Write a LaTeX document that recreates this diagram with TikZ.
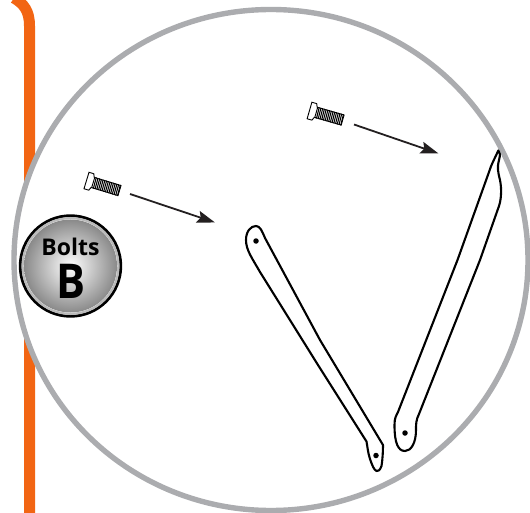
\documentclass[tikz,border=0pt]{standalone}
\usepackage{fontspec}
\setmainfont{Open Sans}
\usetikzlibrary{arrows.meta}
\definecolor{orangebar}{HTML}{F26513}
\definecolor{ringgray}{HTML}{ABACAF}
\definecolor{arrowblk}{HTML}{231F20}
\tikzset{
  x=1pt,y=-1pt,
  strap/.style={draw=black,line width=2.1pt,fill=white,line join=round},
  holemark/.style={circle,fill=black,inner sep=0pt,minimum size=5.5pt},
  pointer/.style={draw=arrowblk,line width=1.8pt,-{Stealth[length=18pt,width=12pt,inset=3pt]}},
  boltline/.style={draw=black,line width=.9pt,fill=white},
  pics/bolt/.style={code={
    \path[boltline] (0,-8.6) -- (5,-8.6) -- (6.5,-5.2) -- (8,-5.2) -- (8,5.2) -- (6.5,5.2) -- (5,8.6) -- (0,8.6) -- cycle;
    \path[boltline] (7,-5.2) rectangle (34.5,5.2);
    \foreach \k in {8.5,10.3,...,34} \draw[black,line width=1.05pt] (\k,-5.8) -- (\k+.4,5.8);
  }}
}
\begin{document}
\begin{tikzpicture}
\useasboundingbox (0,0) rectangle (530,513);
% orange bar
\draw[orangebar,line width=11pt] (14,-2) .. controls (24,4) and (29.5,11) .. (29.5,26) -- (29.5,514);
% big circle
\path[fill=white,draw=ringgray,line width=5.4pt] (271,260) ellipse [x radius=257,y radius=250.5];
% badge
\shade[inner color=white,outer color=black!46] (70.5,266) circle (46.5);
\draw[black,line width=2.8pt] (70.5,266) circle (50.3);
\draw[black!27,line width=2.2pt] (70.5,266) circle (47.9);
\node[font=\bfseries\fontsize{23}{24}\selectfont,inner sep=0pt] (boltslabel) at (70.5,247) {Bolts};
\node[font=\bfseries\fontsize{48}{48}\selectfont,inner sep=0pt,xscale=.9] (bletter) at (71,281) {B};
% bolts
\pic[rotate=-17] at (86.5,180.5) {bolt};
\pic[rotate=-16] at (309.5,110.5) {bolt};
% arrows
\coordinate (a1s) at (130,194); \coordinate (a1e) at (215,222.5);
\coordinate (a2s) at (354,124.5); \coordinate (a2e) at (438.5,153.5);
\draw[pointer] (a1s) -- (a1e);
\draw[pointer] (a2s) -- (a2e);
% left strap
\path[strap] (246,240) .. controls (246,231) and (251,226) .. (256,226)
  .. controls (260,226) and (262,231) .. (265,238)
  -- (320,340) -- (383,445)
  .. controls (383,452) and (382.5,460) .. (381.5,466)
  .. controls (380,470) and (378,472) .. (376.5,471)
  .. controls (374,470) and (372,465) .. (370,459)
  .. controls (368,453) and (367.5,447) .. (366.5,441.5)
  -- (318,365) -- (260,272)
  .. controls (252,258) and (246,250) .. (246,240) -- cycle;
\node[holemark] (hole1) at (256,241) {};
\node[holemark] (hole2) at (376,455.5) {};
% right strap
\path[strap] (394.5,425) .. controls (394.5,418) and (396,416) .. (398,412)
  -- (457.5,260) -- (489,172)
  .. controls (491,165) and (495,158) .. (498.3,150.5)
  .. controls (500,152) and (500.5,155) .. (499,160)
  .. controls (497,168) and (498,172) .. (500,180)
  .. controls (502,190) and (501,200) .. (499,206)
  -- (480,260) -- (419,414)
  .. controls (416,420) and (416,424) .. (416,430)
  .. controls (416,443) and (411,451) .. (405,451)
  .. controls (398,451) and (394.5,443) .. (394.5,425) -- cycle;
\node[holemark] (hole3) at (405,433) {};
\end{tikzpicture}
\end{document}
